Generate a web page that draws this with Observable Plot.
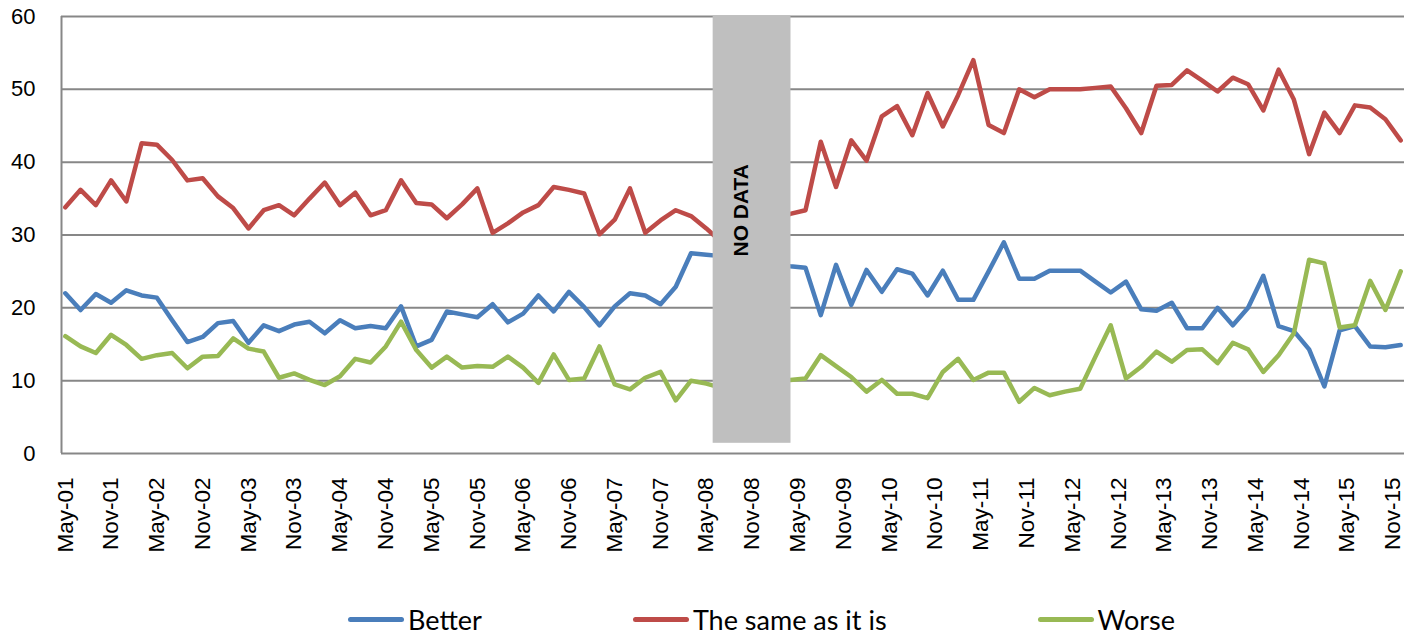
<!DOCTYPE html>
<html><head><meta charset="utf-8">
<script src="https://cdn.jsdelivr.net/npm/d3@7"></script>
<script src="https://cdn.jsdelivr.net/npm/@observablehq/plot@0.6"></script>
<style>
body{margin:0;background:#fff;width:1418px;height:635px;overflow:hidden;position:relative;font-family:"Liberation Sans",Arial,sans-serif}
#chart{position:absolute;left:0;top:0}
#legend{position:absolute;left:348px;top:600px;height:38px;display:flex;align-items:center;}
.item{display:flex;align-items:center;margin-right:151px}
.sw{width:56px;height:5px;border-radius:3px;margin-right:4px}
.lab{font-family:Lato,"Liberation Sans",sans-serif;font-size:27px;color:#000;white-space:nowrap}
</style></head><body><div id="chart"></div><div id="legend"></div>
<script>
const dates = ["2001-05","2001-07","2001-09","2001-11",
"2002-01","2002-03","2002-05","2002-07","2002-09","2002-11",
"2003-01","2003-03","2003-05","2003-07","2003-09","2003-11",
"2004-01","2004-03","2004-05","2004-07","2004-09","2004-11",
"2005-01","2005-03","2005-05","2005-07","2005-09","2005-11",
"2006-01","2006-03","2006-05","2006-07","2006-09","2006-11",
"2007-01","2007-03","2007-05","2007-07","2007-09","2007-11",
"2008-01","2008-03","2008-05","2008-07",
"2009-04","2009-06","2009-08","2009-10","2009-12",
"2010-02","2010-04","2010-06","2010-08","2010-10","2010-12",
"2011-02","2011-04","2011-06","2011-08","2011-10","2011-12",
"2012-02","2012-04","2012-06","2012-08","2012-10","2012-12",
"2013-02","2013-04","2013-06","2013-08","2013-10","2013-12",
"2014-02","2014-04","2014-06","2014-08","2014-10","2014-12",
"2015-02","2015-04","2015-06","2015-08","2015-10","2015-12"];
const better = [22.0,19.7,21.9,20.7,22.4,21.7,21.4,18.3,15.3,16.0,17.9,18.2,15.2,17.6,16.8,17.7,18.1,16.5,18.3,17.2,17.5,17.2,20.2,14.7,15.6,19.5,19.1,18.7,20.5,18.0,19.2,21.7,19.5,22.2,20.1,17.6,20.2,22.0,21.7,20.5,22.9,27.5,27.3,27.1,
25.7,25.5,19.0,25.9,20.4,25.2,22.2,25.3,24.7,21.7,25.1,21.1,21.1,25.0,29.0,24.0,24.0,25.1,25.1,25.1,23.6,22.1,23.6,19.8,19.6,20.7,17.2,17.2,20.0,17.6,20.0,24.4,17.5,16.8,14.3,9.2,16.9,17.5,14.7,14.6,14.9];
const same = [33.8,36.2,34.1,37.5,34.6,42.6,42.4,40.3,37.5,37.8,35.3,33.7,30.9,33.4,34.1,32.7,35.0,37.2,34.1,35.8,32.7,33.4,37.5,34.4,34.2,32.3,34.2,36.4,30.3,31.6,33.1,34.1,36.6,36.2,35.7,30.1,32.1,36.4,30.3,32.0,33.4,32.6,30.9,29.0,
32.9,33.4,42.8,36.6,43.0,40.2,46.3,47.7,43.7,49.5,44.9,49.2,54.0,45.1,44.0,50.0,48.9,50.0,50.0,50.0,50.2,50.4,47.4,44.0,50.5,50.6,52.6,51.2,49.7,51.6,50.7,47.1,52.7,48.6,41.1,46.8,44.0,47.8,47.5,45.9,43.0];
const worse = [16.1,14.7,13.8,16.3,14.9,13.0,13.5,13.8,11.7,13.3,13.4,15.8,14.4,14.0,10.4,11.0,10.1,9.4,10.6,13.0,12.5,14.7,18.1,14.2,11.8,13.3,11.8,12.0,11.9,13.3,11.8,9.7,13.6,10.1,10.3,14.7,9.5,8.8,10.4,11.2,7.3,10.0,9.6,9.0,
10.1,10.3,13.5,12.0,10.5,8.5,10.1,8.2,8.2,7.6,11.2,13.0,10.1,11.1,11.1,7.1,9.0,8.0,8.5,8.9,13.3,17.6,10.3,11.9,14.0,12.6,14.2,14.3,12.4,15.2,14.3,11.2,13.5,16.5,26.6,26.1,17.3,17.6,23.7,19.7,25.0];
const seriesNames = ["Better","The same as it is","Worse"];
const seriesColors = ["#4A7EBB","#BE4B48","#98B954"];
const tickLabels = ["May-01","Nov-01","May-02","Nov-02","May-03","Nov-03","May-04","Nov-04","May-05","Nov-05",
"May-06","Nov-06","May-07","Nov-07","May-08","Nov-08","May-09","Nov-09","May-10","Nov-10",
"May-11","Nov-11","May-12","Nov-12","May-13","Nov-13","May-14","Nov-14","May-15","Nov-15"];
const yTicks = [0,10,20,30,40,50,60];
// shaded "no data" band, in data units (months since May-01, survey %)
const noData = [{label:"NO DATA", from:84.9, to:95.1, low:1.4, high:60.1, tx:88.6, ty:33.4}];

const base = {y:2001, m:5};
const monthIdx = s => { const [y,m] = s.split("-").map(Number); return (y-base.y)*12 + (m-base.m); };
const parseLbl = d3.utcParse("%b-%y");
const tickVals = tickLabels.map(l => { const d = parseLbl(l); return (d.getUTCFullYear()-base.y)*12 + (d.getUTCMonth()+1-base.m); });
const lblByVal = new Map(tickVals.map((v,i)=>[v,tickLabels[i]]));

const seriesVals = [better, same, worse];
const rows = seriesVals.flatMap((arr,si)=>arr.map((v,i)=>({m:monthIdx(dates[i]), v, s:seriesNames[si]})));
const mExt = d3.extent(dates, monthIdx);
const xDom = [mExt[0]-0.5, mExt[1]+0.5];

const W=1418, H=590, plotBottom=453;
const grid = "#878787";
const chart = Plot.plot({
  width:W, height:H, marginLeft:61, marginRight:14, marginTop:16, marginBottom:H-plotBottom,
  x:{type:"linear", domain:xDom},
  y:{domain:[0,60]},
  color:{domain:seriesNames, range:seriesColors},
  style:{fontFamily:"'Liberation Sans', Arial, sans-serif", fontSize:"22px", background:"#fff", color:"#000"},
  marks:[
    Plot.gridY(yTicks,{stroke:grid, strokeOpacity:1, strokeWidth:2}),
    Plot.ruleX([xDom[0]],{stroke:grid, strokeWidth:2}),
    Plot.line(rows,{x:"m", y:"v", z:"s", stroke:"s", strokeWidth:4.5, strokeLinejoin:"round", strokeLinecap:"round"}),
    Plot.rect(noData,{x1:"from", x2:"to", y1:"low", y2:"high", fill:"#BFBFBF"}),
    Plot.text(noData,{x:"tx", y:"ty", text:"label", rotate:-90, fontWeight:"bold", fontSize:21, fill:"#000"}),
    Plot.axisY(yTicks,{tickSize:0, tickPadding:26, fontSize:22}),
    Plot.axisX(tickVals,{tickSize:0, tickPadding:24, tickRotate:-90, tickFormat:d=>lblByVal.get(d), fontSize:22.5})
  ]
});
document.getElementById("chart").appendChild(chart);

const leg = document.getElementById("legend");
seriesNames.forEach((n,i)=>{
  const it = document.createElement("div"); it.className="item";
  const sw = document.createElement("div"); sw.className="sw"; sw.style.background=seriesColors[i];
  const lb = document.createElement("span"); lb.className="lab"; lb.textContent=n;
  it.appendChild(sw); it.appendChild(lb); leg.appendChild(it);
});
</script></body></html>
